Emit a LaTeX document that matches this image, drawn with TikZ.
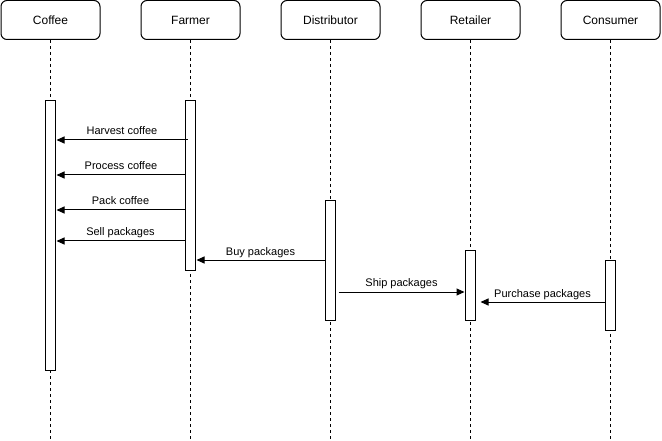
\documentclass[tikz,border=0pt]{standalone}
\usepackage{fontspec}
\setmainfont{Liberation Sans}
\usepackage{tikz}
\usetikzlibrary{arrows.meta,calc}

\tikzset{
  actor/.style={draw, rounded corners=6pt, line width=1pt, minimum width=99pt, minimum height=39pt, font=\fontsize{12}{14}\selectfont},
  life/.style={line width=1pt, dash pattern=on 3pt off 3pt},
  bar/.style={draw, fill=white, line width=1pt, minimum width=10pt, anchor=north, inner sep=0pt},
  msg/.style={line width=1pt, -{Triangle[length=8pt,width=7pt]}},
  lbl/.style={font=\fontsize{11}{13}\selectfont, anchor=base, yshift=5pt}
}

\begin{document}
\begin{tikzpicture}[x=1pt,y=-1pt]
\useasboundingbox (0,0) rectangle (662,441);
\node[actor] (coffee) at (50.5,20) {Coffee};
\node[actor] (farmer) at (190.5,20) {Farmer};
\node[actor] (distributor) at (330.5,20) {Distributor};
\node[actor] (retailer) at (470.5,20) {Retailer};
\node[actor] (consumer) at (610.5,20) {Consumer};
\foreach \n in {coffee,farmer,distributor,retailer,consumer}
  \draw[life] (\n.south) -- (\n.south |- 0,441);
\node[bar, minimum height=270pt] (coffeeBar) at (50,100) {};
\node[bar, minimum height=170pt] (farmerBar) at (190,100) {};
\node[bar, minimum height=120pt] (distributorBar) at (330,200) {};
\node[bar, minimum height=70pt] (retailerBar) at (470,250) {};
\node[bar, minimum height=70pt] (consumerBar) at (610,260) {};
\draw[msg] ($(farmerBar.west |- 0,140)+(3,0)$) -- ($(coffeeBar.east |- 0,140)+(1,0)$) node[lbl, midway] {Harvest coffee};
\draw[msg] ($(farmerBar.west |- 0,175)+(1,0)$) -- ($(coffeeBar.east |- 0,175)+(1,0)$) node[lbl, midway] {Process coffee};
\draw[msg] (farmerBar.west |- 0,210) -- ($(coffeeBar.east |- 0,210)+(1,0)$) node[lbl, midway] {Pack coffee};
\draw[msg] (farmerBar.west |- 0,241) -- ($(coffeeBar.east |- 0,241)+(1,0)$) node[lbl, midway] {Sell packages};
\draw[msg] (distributorBar.west |- 0,260) -- ($(farmerBar.east |- 0,260)+(1,0)$) node[lbl, midway] {Buy packages};
\draw[msg] ($(distributorBar.east |- 0,292)+(3,0)$) -- (retailerBar.west |- 0,292) node[lbl, midway] {Ship packages};
\draw[msg] (consumerBar.west |- 0,302) -- ($(retailerBar.east |- 0,302)+(5,0)$) node[lbl, midway] {Purchase packages};
\end{tikzpicture}
\end{document}
